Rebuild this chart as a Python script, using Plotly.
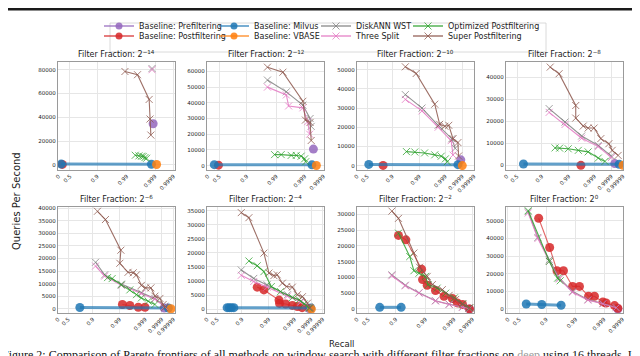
import numpy as np
import plotly.graph_objects as go

W, H = 640, 356

# filter fraction exponent of each panel (2^e)
FRACTION_EXP = [-14, -12, -10, -8, -6, -4, -2, 0]

# recall is written as number of nines: -log10(1 - recall); one list per panel
pre_x = [[2.93], [3.46], [3.91], [4.29], [4.2], [3.88], [3.83], [3.75]]
pre_y = [[34500], [10500], [3000], [800], [300], [200], [0], [0]]

post_x = [[0.1], [0.28], [0.74], [2.47],
          [2.11, 2.4, 2.73, 2.99],
          [1.57, 1.82, 2.4, 2.42, 2.66, 2.92, 3.18, 3.46],
          [1.09, 1.34, 1.87, 1.9, 2.06, 2.35, 2.65, 2.94, 3.18, 3.46, 3.83],
          [0.8, 1.11, 1.36, 1.58, 1.89, 2.13, 2.45, 2.66, 2.96, 3.11, 3.57, 3.75]]
post_y = [[300], [300], [100], [0],
          [1700, 1300, 600, 600],
          [7800, 6800, 3200, 2000, 1800, 1300, 900, 500],
          [23300, 21900, 12600, 9300, 7500, 5800, 4000, 3300, 1900, 1400, 0],
          [51500, 34900, 21700, 21700, 12800, 12800, 7200, 7200, 4000, 3400, 1900, 400]]

milvus_x = [[0.07, 2.87], [0.17, 3.38], [0.34, 3.74], [0.48, 4.67], [0.63, 4.56],
            [0.58, 0.64, 0.7, 0.77, 3.98], [0.59, 1.18], [0.48, 0.88, 1.5]]
milvus_y = [[600, 400], [600, 500], [600, 500], [600, 500], [500, 300],
            [500, 500, 500, 500, 400], [500, 500], [2800, 2500, 2100]]

vbase_x = [[3.08], [3.62], [4.0], [5.0], [4.78], [4.02], [], []]
vbase_y = [[200], [100], [0], [0], [0], [0], [], []]

wst_x = [[2.89],
         [1.7, 2.35, 2.93, 3.28, 3.34],
         [1.48, 2.1, 2.72, 3.38, 3.58],
         [1.27, 1.86, 2.5, 3.22, 4.0],
         [1.1, 1.44, 2.07, 2.85, 3.58, 4.24],
         [0.98, 1.44, 1.94, 2.73, 3.38, 3.88],
         [0.9, 1.32, 1.78, 2.35, 2.83, 3.46, 3.83],
         [0.53, 0.78, 1.1, 1.44, 1.89, 2.43, 2.96, 3.66]]
wst_y = [[81000],
         [54500, 47000, 38500, 30000, 25000],
         [37000, 30000, 21000, 14000, 9000],
         [25700, 19600, 13300, 9000, 4200],
         [18500, 13500, 9800, 6300, 4100, 1000],
         [13900, 10900, 8600, 5100, 2800, 800],
         [10800, 7500, 5100, 2600, 1500, 600, 200],
         [55300, 40600, 27900, 17500, 10000, 5300, 3100, 800]]

split_x = [[2.89],
           [1.7, 2.35, 2.43, 2.93, 3.15, 3.26],
           [1.48, 2.1, 2.72, 3.34, 3.45],
           [1.27, 1.86, 2.5, 3.22, 4.0],
           [1.1, 1.44, 2.07, 2.85, 3.58, 4.24],
           [0.98, 1.44, 1.94, 2.73, 3.38, 3.88],
           [0.9, 1.32, 1.78, 2.35, 2.83, 3.46, 3.83],
           [0.53, 0.78, 1.1, 1.44, 1.89, 2.43, 2.96, 3.66]]
split_y = [[80000],
           [50000, 45000, 38000, 36800, 28000, 20000],
           [34500, 28500, 20000, 13000, 5500],
           [24000, 18500, 12300, 8500, 3500],
           [17000, 13000, 9300, 6000, 3800, 800],
           [12000, 9800, 7800, 4600, 2500, 500],
           [10500, 7300, 5000, 2500, 1400, 500, 100],
           [54500, 40000, 27000, 17000, 9500, 5000, 2900, 700]]

opt_x = [[2.3, 2.43, 2.52, 2.58, 2.64, 2.7],
         [1.94, 2.17, 2.52, 2.7, 2.87, 2.99, 3.05],
         [1.52, 1.83, 2.2, 2.59, 2.84, 3.0, 3.11],
         [1.49, 1.66, 1.98, 2.37, 2.75, 3.22, 3.62],
         [1.55, 1.72, 2.07, 2.4, 2.66, 2.85, 3.18, 3.58],
         [1.26, 1.57, 1.82, 2.1, 2.46, 2.92, 3.28, 3.58, 3.88],
         [1.09, 1.47, 1.61, 1.78, 2.0, 2.09, 2.41, 2.71, 3.02, 3.46, 3.83],
         [0.53, 1.1, 1.38, 1.47]]
opt_y = [[8000, 7500, 7200, 7000, 6000, 5500],
         [7000, 7000, 6500, 6500, 6000, 4300, 2500],
         [7300, 7100, 6600, 5600, 4900, 3500, 2000],
         [7900, 7800, 7500, 6800, 6100, 3300, 1800],
         [12400, 12000, 9500, 7500, 5600, 4300, 3000, 1700],
         [17100, 15400, 13300, 8000, 6200, 4100, 3300, 1800, 400],
         [24000, 16600, 12100, 11300, 10300, 7700, 6600, 5000, 3500, 1600, 300],
         [55800, 27000, 17500, 16000]]

super_x = [[1.94, 2.38, 2.79, 2.82, 2.85],
           [1.7, 2.23, 2.93, 3.03, 3.28, 3.34],
           [1.48, 1.88, 2.59, 2.78, 2.98, 3.2, 3.45, 3.74, 3.78],
           [1.31, 1.64, 2.27, 2.27, 2.56, 2.75, 2.98, 3.37, 3.85, 4.07, 4.58],
           [1.17, 1.47, 2.05, 2.01, 2.33, 2.53, 2.66, 2.85, 3.02, 3.34, 3.58, 3.88, 4.11, 4.24],
           [0.98, 1.26, 1.82, 2.01, 2.2, 2.33, 2.53, 2.7, 2.92, 3.18, 3.48, 3.78, 3.94],
           [0.9, 1.09, 1.61, 1.8, 2.06, 2.24, 2.59, 2.83, 3.09, 3.46, 3.83],
           []]
super_y = [[78500, 75800, 55000, 38500, 25000],
           [62700, 59500, 41000, 29000, 27500, 16000],
           [51500, 48000, 32000, 21500, 20500, 21000, 14000, 12000, 5000],
           [44500, 41500, 27100, 21400, 17800, 16900, 16900, 12100, 9800, 6800, 4500],
           [38800, 35500, 23300, 18100, 14500, 14300, 13500, 9300, 8300, 8300, 5000, 4100, 1700, 500],
           [34300, 32500, 19900, 12800, 11900, 12200, 9200, 8000, 7800, 5100, 4400, 2100, 400],
           [31000, 28700, 17700, 13200, 10300, 7700, 6100, 4300, 3000, 1600, 300],
           []]

# recall tick labels and their nines
TICK_TEXT = ["0", "0.5", "0.9", "0.99", "0.999", "0.9999", "0.99999"]
TICK_NINES = [0, 0.301, 1, 2, 3, 4, 5]
# position of each tick on the (non linear) recall scale
TICK_POS = [0, 0.4, 1.36, 2.4, 3.4, 4.05, 4.5]


def to_axis(n):
    return np.interp(np.asarray(n, dtype=float), TICK_NINES, TICK_POS)


methods = [
    # name, x, y, colour, symbol, legend cell (col,row)
    ("Baseline: Prefiltering", pre_x, pre_y, "148,103,189", "circle", (0, 0)),
    ("Baseline: Postfiltering", post_x, post_y, "214,39,40", "circle", (0, 1)),
    ("Baseline: Milvus", milvus_x, milvus_y, "31,119,180", "circle", (1, 0)),
    ("Baseline: VBASE", vbase_x, vbase_y, "255,127,14", "circle", (1, 1)),
    ("DiskANN WST", wst_x, wst_y, "127,127,127", "x-thin", (2, 0)),
    ("Three Split", split_x, split_y, "227,119,194", "x-thin", (2, 1)),
    ("Optimized Postfiltering", opt_x, opt_y, "44,160,44", "x-thin", (3, 0)),
    ("Super Postfiltering", super_x, super_y, "140,86,75", "x-thin", (3, 1)),
]

x_ranges = [(-0.02, 4.1), (-0.03, 4.07), (0, 4.5), (-0.03, 4.5),
            (0, 4.56), (0, 4.55), (0, 4.1), (-0.07, 4.07)]
y_ranges = [(-4400, 86500), (-2800, 66000), (-2300, 54000), (-2100, 46800),
            (-1700, 40500), (-1400, 36300), (-1300, 32300), (-2300, 57900)]
y_dtick = [20000, 10000, 10000, 10000, 5000, 5000, 5000, 10000]

col_px = [(50, 167), (199, 316), (349, 466), (498, 615)]
row_px = [(54, 162), (199, 305)]

fig = go.Figure()
legend_text_x = [131, 246, 348, 440]
legend_row_y = [18, 28]

for m_i, (name, xs, ys, rgb, sym, (lc, lr)) in enumerate(methods):
    leg = "legend" if m_i == 0 else "legend%d" % (m_i + 1)
    circle = sym == "circle"
    msize = 9 if circle else 7
    mline = dict(width=0 if circle else 1, color="rgba(%s,0.75)" % rgb)
    for p in range(8):
        k = p + 1
        lw = 3 if name == "Baseline: Milvus" else 1.1
        if not len(xs[p]):
            continue
        fig.add_trace(go.Scatter(
            x=to_axis(xs[p]), y=ys[p],
            mode="lines+markers", name=name,
            xaxis="x%d" % k, yaxis="y%d" % k,
            showlegend=False,
            line=dict(color="rgba(%s,%s)" % (rgb, 0.7 if circle else 0.85), width=lw),
            marker=dict(symbol=sym, size=msize, color="rgba(%s,0.85)" % rgb, line=mline),
        ))
    # legend entry with a thin line
    fig.add_trace(go.Scatter(
        x=[None], y=[None], mode="lines+markers", name=name,
        xaxis="x1", yaxis="y1", legend=leg, showlegend=True,
        line=dict(color="rgba(%s,0.8)" % rgb, width=1.5),
        marker=dict(symbol=sym, size=7, color="rgba(%s,0.85)" % rgb, line=mline),
    ))

layout = dict(
    width=W, height=H,
    margin=dict(l=0, r=0, t=0, b=0),
    paper_bgcolor="white", plot_bgcolor="white",
    font=dict(family="DejaVu Sans", color="#222"),
)

for m_i, (name, xs, ys, rgb, sym, (lc, lr)) in enumerate(methods):
    leg = "legend" if m_i == 0 else "legend%d" % (m_i + 1)
    layout[leg] = dict(
        x=(legend_text_x[lc] - 40) / W, xanchor="left",
        y=1 - legend_row_y[lr] / H, yanchor="middle",
        bgcolor="rgba(0,0,0,0)", font=dict(size=8, family="DejaVu Sans"),
        itemwidth=30,
    )

annotations = []
for p in range(8):
    k = p + 1
    r, c = divmod(p, 4)
    x0, x1 = col_px[c]
    y0, y1 = row_px[r]
    layout["xaxis%d" % k] = dict(
        domain=[x0 / W, x1 / W], anchor="y%d" % k,
        range=list(x_ranges[p]),
        tickmode="array", tickvals=list(to_axis(TICK_NINES)), ticktext=TICK_TEXT,
        tickangle=-45, tickfont=dict(size=5.5),
        showgrid=True, gridcolor="#e6e6e6", gridwidth=0.8,
        showline=True, linecolor="#9a9a9a", linewidth=1.2, mirror=True,
        zeroline=False, ticks="", automargin=False,
    )
    layout["yaxis%d" % k] = dict(
        domain=[1 - y1 / H, 1 - y0 / H], anchor="x%d" % k,
        range=list(y_ranges[p]),
        tickmode="linear", tick0=0, dtick=y_dtick[p], tickformat="d",
        tickfont=dict(size=5.5),
        showgrid=True, gridcolor="#e6e6e6", gridwidth=0.8,
        showline=True, linecolor="#9a9a9a", linewidth=1.2, mirror=True,
        zeroline=False, ticks="", automargin=False,
    )
    e = FRACTION_EXP[p]
    sup = "\u2212%d" % -e if e < 0 else "0"
    annotations.append(dict(
        text="Filter Fraction: 2<sup>%s</sup>" % sup,
        x=(x0 + x1) / 2 / W, y=1 - (y0 - 1) / H, xref="paper", yref="paper",
        xanchor="center", yanchor="bottom", showarrow=False,
        font=dict(size=8, family="DejaVu Sans"),
    ))

annotations += [
    dict(text="Queries Per Second", x=8 / W, y=1 - 193 / H, xref="paper", yref="paper",
         xanchor="center", yanchor="middle",
         textangle=-90, showarrow=False, font=dict(size=10, family="DejaVu Sans")),
    dict(text="Recall", x=333 / W, y=1 - 336 / H, xref="paper", yref="paper",
         xanchor="center", yanchor="middle",
         showarrow=False, font=dict(size=8.5, family="DejaVu Sans")),
    dict(text="Figure 2: Comparison of Pareto frontiers of all methods on window search with different "
              "filter fractions on <span style='color:#9a9a9a'>deep</span> using 16 threads. In",
         x=-8 / W, y=1 - 347 / H, xref="paper", yref="paper", xanchor="left", yanchor="middle",
         showarrow=False, font=dict(size=12, family="Liberation Serif", color="#111")),
]
layout["annotations"] = annotations
layout["shapes"] = [
    dict(type="rect", xref="paper", yref="paper", x0=102 / W, x1=538 / W,
         y0=1 - 44 / H, y1=1 - 15 / H, line=dict(color="#d0d0d0", width=0.8)),
    dict(type="rect", xref="paper", yref="paper", x0=0, x1=1,
         y0=1 - 2.5 / H, y1=1, line=dict(width=0), fillcolor="#1a1a1a"),
]

fig.update_layout(**layout)
fig.write_html("out.html")
